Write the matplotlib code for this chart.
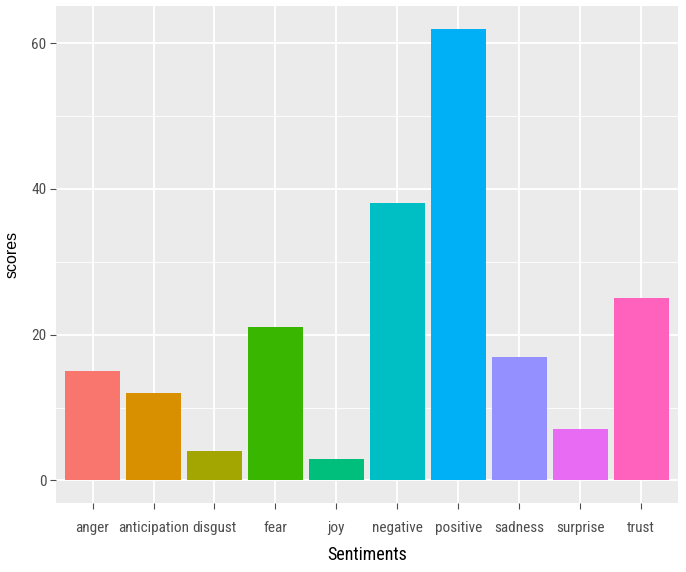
import matplotlib
matplotlib.use("Agg")
import matplotlib.pyplot as plt
from matplotlib import font_manager
from matplotlib.ticker import MultipleLocator

sentiments = ["anger", "anticipation", "disgust", "fear", "joy",
              "negative", "positive", "sadness", "surprise", "trust"]
scores = [15, 12, 4, 21, 3, 38, 62, 17, 7, 25]
hue_colors = ["#F8766D", "#D89000", "#A3A500", "#39B600", "#00BF7D",
              "#00BFC4", "#00B0F6", "#9590FF", "#E76BF3", "#FF62BC"]

# a condensed face if one is around, otherwise a smaller Arial-like one
installed = {f.name for f in font_manager.fontManager.ttflist}
narrow_fam = None
for cand in ["Liberation Sans Narrow", "Roboto Condensed", "Open Sans Condensed",
             "Noto Sans Condensed", "DejaVu Sans Condensed"]:
    if cand in installed:
        narrow_fam = cand
        break
if narrow_fam is None:
    tick_font = dict(family=["Liberation Sans", "DejaVu Sans"], size=9)
    title_font = dict(family=["Liberation Sans", "DejaVu Sans"], size=11.5)
else:
    tick_font = dict(family=[narrow_fam, "DejaVu Sans"], size=11)
    title_font = dict(family=[narrow_fam, "DejaVu Sans"], size=13)


def main():
    fig = plt.figure(figsize=(6.86, 5.72), dpi=100)
    ax = fig.add_axes([0.0816, 0.1206, 0.9064, 0.8689])
    ax.set_facecolor("#EBEBEB")

    x = list(range(1, len(sentiments) + 1))
    ax.bar(x, scores, width=0.9, color=hue_colors, zorder=3)

    ax.set_xlim(0.4, len(sentiments) + 0.6)
    ax.set_ylim(-3.1, 65.1)
    ax.set_xticks(x)
    ax.set_xticklabels(sentiments)
    ax.yaxis.set_major_locator(MultipleLocator(20))
    ax.yaxis.set_minor_locator(MultipleLocator(10))

    ax.grid(which="major", color="white", linewidth=1.3, zorder=1)
    ax.grid(which="minor", axis="y", color="white", linewidth=0.6, zorder=1)
    ax.set_axisbelow(True)
    for s in ax.spines.values():
        s.set_visible(False)

    ax.tick_params(which="major", length=4, width=0.8, color="#4D4D4D",
                   labelcolor="#4D4D4D", pad=3)
    ax.tick_params(axis="x", pad=9)
    ax.tick_params(which="minor", length=0)
    for lbl in ax.get_xticklabels() + ax.get_yticklabels():
        lbl.set_family(tick_font["family"])
        lbl.set_size(tick_font["size"])

    ax.set_xlabel("Sentiments", fontsize=title_font["size"],
                  family=title_font["family"], labelpad=8)
    ax.set_ylabel("scores", fontsize=11.5, family=["Liberation Sans", "DejaVu Sans"],
                  labelpad=8)

    fig.savefig("out.png", dpi=100)


if __name__ == "__main__":
    main()
